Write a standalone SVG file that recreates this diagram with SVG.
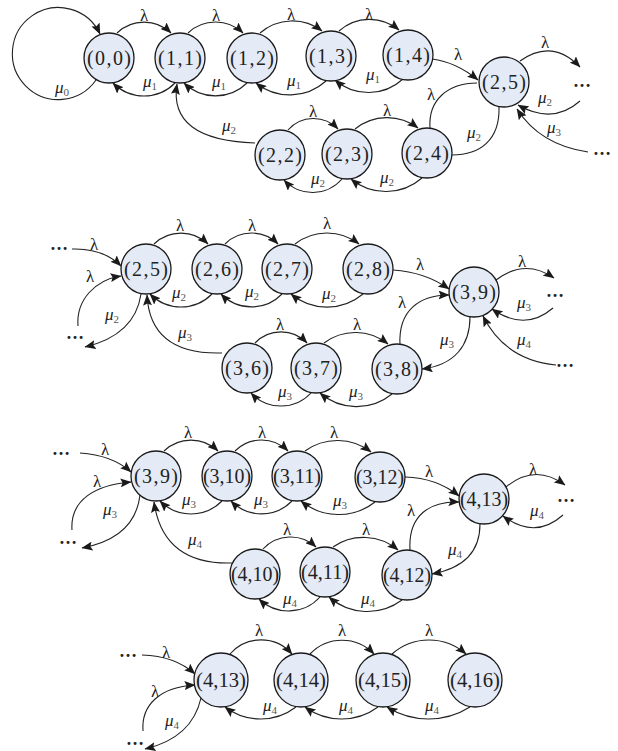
<svg xmlns="http://www.w3.org/2000/svg" width="618" height="751" viewBox="0 0 618 751">
<defs>
<marker id="ah" viewBox="0 0 11 9" refX="10.5" refY="4.5" markerWidth="11" markerHeight="9" markerUnits="userSpaceOnUse" orient="auto">
<path d="M0,0 L11,4.5 L0,9 L2,4.5 z" fill="#1a1a1a"/>
</marker>
<style>
.node circle{fill:#e4ebf6;stroke:#1a1a1a;stroke-width:1.3}
.node text{font-family:"Liberation Serif","DejaVu Serif",serif;font-size:20px;fill:#222;text-anchor:middle}
.edge{fill:none;stroke:#222;stroke-width:1.1;marker-end:url(#ah)}
.nohead{marker-end:none}
.lam{font-family:"Liberation Serif","DejaVu Serif",serif;font-size:17px;text-anchor:middle;fill:#222}
.mu{font-family:"Liberation Serif","DejaVu Serif",serif;font-style:italic;font-size:17px;fill:#222}
.sub{font-style:normal;font-size:11px;fill:#555}
.dots{font-family:"Liberation Serif","DejaVu Serif",serif;font-size:18px;font-weight:bold;text-anchor:middle;fill:#222}
</style>
</defs>
<rect width="618" height="751" fill="#ffffff"/>

<g id="connectors">
<!-- Section 1 -->
<path class="edge" d="M96 80 A46 46 0 1 1 100 34"/>
<path class="edge" d="M117 33 A39 39 0 0 1 171 33"/>
<path class="edge" d="M188 33 A40 40 0 0 1 243 33"/>
<path class="edge" d="M260 33 A49 49 0 0 1 322 31"/>
<path class="edge" d="M339 31 A46 46 0 0 1 399 30"/>
<path class="edge" d="M175 83 A43.5 43.5 0 0 1 113 83"/>
<path class="edge" d="M247 83 A45 45 0 0 1 184 83"/>
<path class="edge" d="M326 81 A54 54 0 0 1 256 83"/>
<path class="edge" d="M403 79 A51 51 0 0 1 335 80"/>
<path class="edge" d="M288 130 A34 34 0 0 1 338 129"/>
<path class="edge" d="M355 129 A51 51 0 0 1 418 128"/>
<path class="edge" d="M342 179 A39 39 0 0 1 284 180"/>
<path class="edge" d="M422 178 A55 55 0 0 1 351 179"/>
<path class="edge" d="M255 143 Q168 140 177 84"/>
<path class="edge" d="M432 59 Q456 62 478 80"/>
<path class="edge nohead" d="M430 128 C428 100 448 83 477 83"/>
<path class="edge nohead" d="M499 107 C500 140 480 155 452 155"/>
<path class="edge" d="M520 61 Q552 38 580 67"/>
<path class="edge" d="M580 101 Q553 125 518 105"/>
<path class="edge" d="M588 152 Q540 145 517 109"/>
<!-- Section 2 -->
<path class="edge" d="M72 249 Q103 248 121 266"/>
<path class="edge" d="M78 326 C76 300 95 280 121 276"/>
<path class="edge" d="M141 294 Q135 335 85 347"/>
<path class="edge" d="M222 353 Q150 355 147 295"/>
<path class="edge" d="M154 244 A39 39 0 0 1 208 244"/>
<path class="edge" d="M225 244 A37.5 37.5 0 0 1 278 244"/>
<path class="edge" d="M295 244 A52 52 0 0 1 359 244"/>
<path class="edge" d="M212 294 A43.5 43.5 0 0 1 150 294"/>
<path class="edge" d="M282 294 A42.5 42.5 0 0 1 221 294"/>
<path class="edge" d="M363 294 A56 56 0 0 1 291 294"/>
<path class="edge" d="M255 343 A36 36 0 0 1 307 343"/>
<path class="edge" d="M324 343 A52 52 0 0 1 388 344"/>
<path class="edge" d="M311 393 A41 41 0 0 1 251 393"/>
<path class="edge" d="M392 394 A56 56 0 0 1 320 393"/>
<path class="edge" d="M393 270 Q425 272 449 289"/>
<path class="edge" d="M400 345 C398 310 420 295 449 295"/>
<path class="edge" d="M470 317 C470 345 455 365 422 369"/>
<path class="edge" d="M496 280 Q525 258 554 278"/>
<path class="edge" d="M553 308 Q525 332 492 309"/>
<path class="edge" d="M556 365 Q505 360 483 316"/>
<!-- Section 3 -->
<path class="edge" d="M80 453 Q112 455 131 472"/>
<path class="edge" d="M72 530 C70 500 95 485 131 482"/>
<path class="edge" d="M140 495 Q135 538 82 548"/>
<path class="edge" d="M232 563 Q163 565 154 502"/>
<path class="edge" d="M164 451 A39 39 0 0 1 218 451"/>
<path class="edge" d="M235 451 A37.5 37.5 0 0 1 288 451"/>
<path class="edge" d="M305 451 A55 55 0 0 1 371 452"/>
<path class="edge" d="M222 501 A43.5 43.5 0 0 1 160 501"/>
<path class="edge" d="M292 501 A42.5 42.5 0 0 1 231 501"/>
<path class="edge" d="M375 502 A59 59 0 0 1 301 501"/>
<path class="edge" d="M263 549 A37.5 37.5 0 0 1 316 547"/>
<path class="edge" d="M333 547 A53.5 53.5 0 0 1 398 550"/>
<path class="edge" d="M320 597 A42.5 42.5 0 0 1 259 599"/>
<path class="edge" d="M402 600 A58 58 0 0 1 329 597"/>
<path class="edge" d="M405 477 Q437 478 459 496"/>
<path class="edge" d="M410 550 C408 515 430 501 459 502"/>
<path class="edge" d="M480 524 C480 550 465 568 432 574"/>
<path class="edge" d="M506 487 Q535 463 565 485"/>
<path class="edge" d="M563 515 Q535 540 503 516"/>
<!-- Section 4 -->
<path class="edge" d="M142 655 Q175 656 195 674"/>
<path class="edge" d="M143 731 C141 705 160 687 195 685"/>
<path class="edge" d="M201 698 Q192 738 145 749"/>
<path class="edge" d="M230 654 A41 41 0 0 1 292 654"/>
<path class="edge" d="M310 654 A44 44 0 0 1 374 654"/>
<path class="edge" d="M392 654 A56 56 0 0 1 466 654"/>
<path class="edge" d="M296 707 A58.5 58.5 0 0 1 225 707"/>
<path class="edge" d="M378 707 A61.5 61.5 0 0 1 305 707"/>
<path class="edge" d="M470 707 A78 78 0 0 1 387 707"/>
</g>

<g id="labels">
<!-- Section 1 -->
<text class="lam" x="144" y="21">λ</text>
<text class="lam" x="216" y="21">λ</text>
<text class="lam" x="291" y="20">λ</text>
<text class="lam" x="369" y="20">λ</text>
<text class="lam" x="313" y="117">λ</text>
<text class="lam" x="387" y="116">λ</text>
<text class="lam" x="458" y="60">λ</text>
<text class="lam" x="431" y="100">λ</text>
<text class="lam" x="545" y="48">λ</text>
<text class="mu" x="55" y="93">μ<tspan class="sub" dy="3">0</tspan></text>
<text class="mu" x="143" y="87">μ<tspan class="sub" dy="3">1</tspan></text>
<text class="mu" x="212" y="87">μ<tspan class="sub" dy="3">1</tspan></text>
<text class="mu" x="287" y="86">μ<tspan class="sub" dy="3">1</tspan></text>
<text class="mu" x="366" y="80">μ<tspan class="sub" dy="3">1</tspan></text>
<text class="mu" x="222" y="131">μ<tspan class="sub" dy="3">2</tspan></text>
<text class="mu" x="311" y="184">μ<tspan class="sub" dy="3">2</tspan></text>
<text class="mu" x="380" y="183">μ<tspan class="sub" dy="3">2</tspan></text>
<text class="mu" x="467" y="138">μ<tspan class="sub" dy="3">2</tspan></text>
<text class="mu" x="538" y="103">μ<tspan class="sub" dy="3">2</tspan></text>
<text class="mu" x="547" y="133">μ<tspan class="sub" dy="3">3</tspan></text>
<!-- Section 2 -->
<text class="lam" x="94" y="250">λ</text>
<text class="lam" x="90" y="282">λ</text>
<text class="lam" x="180" y="231">λ</text>
<text class="lam" x="252" y="231">λ</text>
<text class="lam" x="327" y="229">λ</text>
<text class="lam" x="420" y="270">λ</text>
<text class="lam" x="402" y="308">λ</text>
<text class="lam" x="522" y="267">λ</text>
<text class="lam" x="280" y="330">λ</text>
<text class="lam" x="357" y="330">λ</text>
<text class="mu" x="172" y="298">μ<tspan class="sub" dy="3">2</tspan></text>
<text class="mu" x="245" y="297">μ<tspan class="sub" dy="3">2</tspan></text>
<text class="mu" x="322" y="299">μ<tspan class="sub" dy="3">2</tspan></text>
<text class="mu" x="105" y="320">μ<tspan class="sub" dy="3">2</tspan></text>
<text class="mu" x="178" y="338">μ<tspan class="sub" dy="3">3</tspan></text>
<text class="mu" x="440" y="345">μ<tspan class="sub" dy="3">3</tspan></text>
<text class="mu" x="517" y="308">μ<tspan class="sub" dy="3">3</tspan></text>
<text class="mu" x="517" y="345">μ<tspan class="sub" dy="3">4</tspan></text>
<text class="mu" x="278" y="397">μ<tspan class="sub" dy="3">3</tspan></text>
<text class="mu" x="349" y="397">μ<tspan class="sub" dy="3">3</tspan></text>
<!-- Section 3 -->
<text class="lam" x="105" y="455">λ</text>
<text class="lam" x="97" y="487">λ</text>
<text class="lam" x="188" y="438">λ</text>
<text class="lam" x="262" y="438">λ</text>
<text class="lam" x="334" y="438">λ</text>
<text class="lam" x="429" y="477">λ</text>
<text class="lam" x="411" y="516">λ</text>
<text class="lam" x="533" y="475">λ</text>
<text class="lam" x="287" y="535">λ</text>
<text class="lam" x="366" y="535">λ</text>
<text class="mu" x="182" y="505">μ<tspan class="sub" dy="3">3</tspan></text>
<text class="mu" x="254" y="505">μ<tspan class="sub" dy="3">3</tspan></text>
<text class="mu" x="333" y="506">μ<tspan class="sub" dy="3">3</tspan></text>
<text class="mu" x="103" y="515">μ<tspan class="sub" dy="3">3</tspan></text>
<text class="mu" x="188" y="545">μ<tspan class="sub" dy="3">4</tspan></text>
<text class="mu" x="448" y="555">μ<tspan class="sub" dy="3">4</tspan></text>
<text class="mu" x="530" y="516">μ<tspan class="sub" dy="3">4</tspan></text>
<text class="mu" x="283" y="604">μ<tspan class="sub" dy="3">4</tspan></text>
<text class="mu" x="361" y="604">μ<tspan class="sub" dy="3">4</tspan></text>
<!-- Section 4 -->
<text class="lam" x="166" y="658">λ</text>
<text class="lam" x="155" y="697">λ</text>
<text class="lam" x="259" y="636">λ</text>
<text class="lam" x="342" y="636">λ</text>
<text class="lam" x="429" y="636">λ</text>
<text class="mu" x="165" y="726">μ<tspan class="sub" dy="3">4</tspan></text>
<text class="mu" x="263" y="711">μ<tspan class="sub" dy="3">4</tspan></text>
<text class="mu" x="339" y="711">μ<tspan class="sub" dy="3">4</tspan></text>
<text class="mu" x="425" y="711">μ<tspan class="sub" dy="3">4</tspan></text>
<!-- dots -->
<text class="dots" x="582" y="87">…</text>
<text class="dots" x="602" y="155">…</text>
<text class="dots" x="59" y="250">…</text>
<text class="dots" x="75" y="339">…</text>
<text class="dots" x="555" y="297">…</text>
<text class="dots" x="565" y="367">…</text>
<text class="dots" x="61" y="455">…</text>
<text class="dots" x="68" y="544">…</text>
<text class="dots" x="566" y="502">…</text>
<text class="dots" x="128" y="657">…</text>
<text class="dots" x="135" y="745">…</text>
</g>

<!-- Section 1 nodes -->
<g id="n-0-0" class="node"><circle cx="109" cy="58" r="25"/><text x="109" y="65" textLength="44" lengthAdjust="spacing">(0,0)</text></g>
<g id="n-1-1" class="node"><circle cx="180" cy="58" r="25"/><text x="180" y="65" textLength="44" lengthAdjust="spacing">(1,1)</text></g>
<g id="n-1-2" class="node"><circle cx="252" cy="58" r="25"/><text x="252" y="65" textLength="44" lengthAdjust="spacing">(1,2)</text></g>
<g id="n-1-3" class="node"><circle cx="331" cy="56" r="25"/><text x="331" y="63" textLength="44" lengthAdjust="spacing">(1,3)</text></g>
<g id="n-1-4" class="node"><circle cx="408" cy="55" r="25"/><text x="408" y="62" textLength="44" lengthAdjust="spacing">(1,4)</text></g>
<g id="n-2-5-a" class="node"><circle cx="504" cy="82" r="25"/><text x="504" y="89" textLength="44" lengthAdjust="spacing">(2,5)</text></g>
<g id="n-2-2" class="node"><circle cx="280" cy="155" r="25"/><text x="280" y="162" textLength="44" lengthAdjust="spacing">(2,2)</text></g>
<g id="n-2-3" class="node"><circle cx="347" cy="154" r="25"/><text x="347" y="161" textLength="44" lengthAdjust="spacing">(2,3)</text></g>
<g id="n-2-4" class="node"><circle cx="427" cy="153" r="25"/><text x="427" y="160" textLength="44" lengthAdjust="spacing">(2,4)</text></g>
<!-- Section 2 nodes -->
<g id="n-2-5-b" class="node"><circle cx="146" cy="269" r="25"/><text x="146" y="276" textLength="44" lengthAdjust="spacing">(2,5)</text></g>
<g id="n-2-6" class="node"><circle cx="217" cy="269" r="25"/><text x="217" y="276" textLength="44" lengthAdjust="spacing">(2,6)</text></g>
<g id="n-2-7" class="node"><circle cx="287" cy="269" r="25"/><text x="287" y="276" textLength="44" lengthAdjust="spacing">(2,7)</text></g>
<g id="n-2-8" class="node"><circle cx="368" cy="269" r="25"/><text x="368" y="276" textLength="44" lengthAdjust="spacing">(2,8)</text></g>
<g id="n-3-9-a" class="node"><circle cx="474" cy="292" r="25"/><text x="474" y="299" textLength="44" lengthAdjust="spacing">(3,9)</text></g>
<g id="n-3-6" class="node"><circle cx="247" cy="368" r="25"/><text x="247" y="375" textLength="44" lengthAdjust="spacing">(3,6)</text></g>
<g id="n-3-7" class="node"><circle cx="316" cy="368" r="25"/><text x="316" y="375" textLength="44" lengthAdjust="spacing">(3,7)</text></g>
<g id="n-3-8" class="node"><circle cx="397" cy="369" r="25"/><text x="397" y="376" textLength="44" lengthAdjust="spacing">(3,8)</text></g>
<!-- Section 3 nodes -->
<g id="n-3-9-b" class="node"><circle cx="156" cy="476" r="25"/><text x="156" y="483" textLength="44" lengthAdjust="spacing">(3,9)</text></g>
<g id="n-3-10" class="node"><circle cx="227" cy="476" r="25"/><text x="227" y="483" textLength="48" lengthAdjust="spacingAndGlyphs">(3,10)</text></g>
<g id="n-3-11" class="node"><circle cx="297" cy="476" r="25"/><text x="297" y="483" textLength="48" lengthAdjust="spacingAndGlyphs">(3,11)</text></g>
<g id="n-3-12" class="node"><circle cx="380" cy="477" r="25"/><text x="380" y="484" textLength="48" lengthAdjust="spacingAndGlyphs">(3,12)</text></g>
<g id="n-4-13-a" class="node"><circle cx="484" cy="499" r="25"/><text x="484" y="506" textLength="48" lengthAdjust="spacingAndGlyphs">(4,13)</text></g>
<g id="n-4-10" class="node"><circle cx="255" cy="574" r="25"/><text x="255" y="581" textLength="48" lengthAdjust="spacingAndGlyphs">(4,10)</text></g>
<g id="n-4-11" class="node"><circle cx="325" cy="572" r="25"/><text x="325" y="579" textLength="48" lengthAdjust="spacingAndGlyphs">(4,11)</text></g>
<g id="n-4-12" class="node"><circle cx="407" cy="575" r="25"/><text x="407" y="582" textLength="48" lengthAdjust="spacingAndGlyphs">(4,12)</text></g>
<!-- Section 4 nodes -->
<g id="n-4-13-b" class="node"><circle cx="221" cy="680" r="27"/><text x="221" y="687" textLength="50" lengthAdjust="spacingAndGlyphs">(4,13)</text></g>
<g id="n-4-14" class="node"><circle cx="301" cy="680" r="27"/><text x="301" y="687" textLength="50" lengthAdjust="spacingAndGlyphs">(4,14)</text></g>
<g id="n-4-15" class="node"><circle cx="383" cy="680" r="27"/><text x="383" y="687" textLength="50" lengthAdjust="spacingAndGlyphs">(4,15)</text></g>
<g id="n-4-16" class="node"><circle cx="475" cy="680" r="27"/><text x="475" y="687" textLength="50" lengthAdjust="spacingAndGlyphs">(4,16)</text></g>
</svg>
